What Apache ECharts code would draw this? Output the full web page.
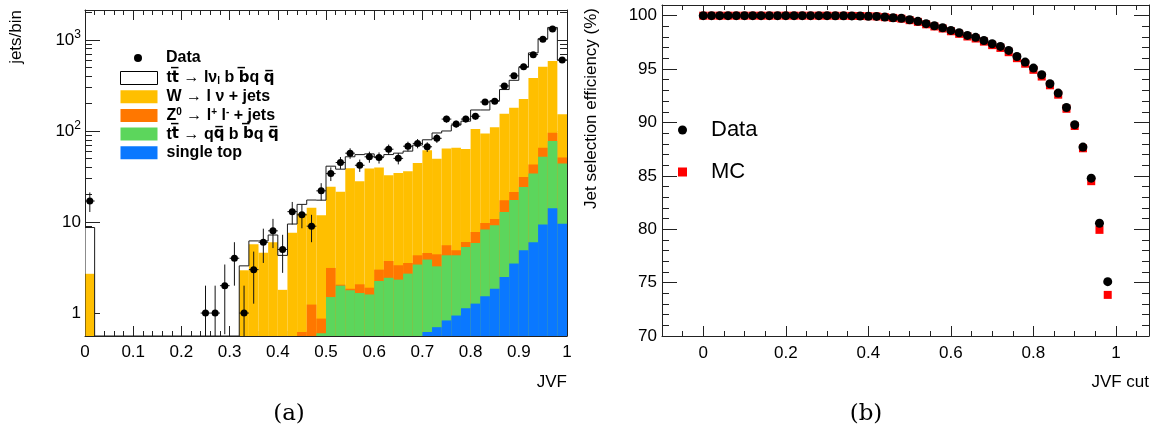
<!DOCTYPE html>
<html><head><meta charset="utf-8">
<script src="https://cdn.jsdelivr.net/npm/echarts@6/dist/echarts.min.js"></script>
<style>html,body{margin:0;padding:0;background:#fff;}#c{width:1160px;height:436px;}</style>
</head><body><div id="c"></div>
<script>
// ---------------- Panel (a): JVF distribution, 50 bins on [0,1] ----------------
const binLo = Array.from({length: 50}, (_, i) => +(i * 0.02).toFixed(2));
const binHi = binLo.map(v => +(v + 0.02).toFixed(2));

const dataCounts = [17, 0,0,0,0,0,0,0,0,0,0,0, 1,1,2,4,1,3,6,8,5,13,
  12,9,22,34,45,57,42,52,51,63, 50,68,73,67,83,135,119,135,145,208,
  212,312,403,508,689,1018,1321,600];

const singleTop = [0,0,0,0,0,0,0,0,0,0, 0,0,0,0,0,0,0,0,0,0, 0,0,0,0,0,0,0,0,0,0, 0,0,0,0,0,
  0.62,0.70,0.83,0.94,1.13,1.27,1.53,1.85,2.49,3.5,4.9,6.0,9.4,14.2,9.6];

const ttHad = [0,0,0,0,0,0,0,0,0,0, 0,0,0,0,0,0,0,0,0,0, 0,0,0,0,
  0.6,1.5,2.0,1.78,1.66,1.6,2.25,2.44,2.33,2.71,3.41,3.25,2.56,3.48,3.37,4.19,
  4.62,6.73,7.35,10.4,13.9,19.4,28.2,42.6,63.2,34.4];

const zJets = [0,0,0,0,0,0,0,0,0,0, 0,0,0,0,0,0,0,0,0,0, 0,0,
  0.62,1.24,0.27,1.63,0.05,0.07,0.41,0.3,0.75,1.29,1.02,0.84,0.9,0.7,1.16,1.25,0.59,0.72,
  1.89,1.52,1.6,4.5,3.9,7.0,8.7,13.4,18.1,7.2];

const wJets = [2.7, 0,0,0,0,0,0,0,0,0,0,0,0,0,0,0,
  2.95,5.7,4.6,6.0,1.8,7.6,11.8,13.1,11.0,21.2,19.5,37.0,25.9,36.9,36.8,29.0,31.2,32.5,40.2,
  57.0,45.1,58.8,60.5,57.2,97.2,84.2,99.2,137.6,158.7,192.7,339.1,442.6,492.5,101.8];

const ttLep = [6.0, 0,0,0,0,0,0,0,0,0,0,0,0,0,0,0,
  0.35,0.5,1.6,1.2,2.5,1.9,3.2,3.1,5.5,16.7,16.5,13.2,27,17.2,12.2,22.3,22.5,24,25.5,
  18.4,45.5,35.6,50.6,64.8,65,76,105,130,180,276,338,522,782,447];

const yMajorA = [1, 10, 100, 1000];
const yMinorA = [0.6,0.7,0.8,0.9, 2,3,4,5,6,7,8,9, 20,30,40,50,60,70,80,90,
  200,300,400,500,600,700,800,900, 2000];

// ---------------- Panel (b): efficiency vs JVF cut ----------------
const jvfCuts = Array.from({length: 50}, (_, i) => +(i * 0.02).toFixed(2));
const effData = [100,100,100,100,100,100,100,100,100,100, 100,100,100,100,100,100,
  99.99,99.99,99.98,99.97,99.95,99.93,99.87,99.81,99.75,99.62,99.47,99.25,99.06,98.87,
  98.62,98.40,98.15,97.97,97.68,97.37,97.12,96.75,96.18,95.65,95.09,94.47,93.62,92.75,
  91.40,89.78,87.69,84.78,80.56,75.09];
const effMC = [100,100,100,100,100,100,100,100,100,100, 100,100,100,100,100,100,
  99.99,99.99,99.98,99.97,99.95,99.93,99.86,99.79,99.72,99.58,99.42,99.19,98.99,98.80,
  98.54,98.30,98.05,97.86,97.57,97.24,96.98,96.58,96.02,95.50,94.93,94.30,93.48,92.60,
  91.28,89.67,87.58,84.50,79.94,73.85];

const xMajorB = [0, 0.2, 0.4, 0.6, 0.8, 1];
const xMinorB = [-0.05,0.05,0.1,0.15,0.25,0.3,0.35,0.45,0.5,0.55,0.65,0.7,0.75,0.85,0.9,0.95,1.05];
const yMajorB = [70, 75, 80, 85, 90, 95, 100];
const yMinorB = [71,72,73,74,76,77,78,79,81,82,83,84,86,87,88,89,91,92,93,94,96,97,98,99];

// ---------------- helpers ----------------
const YMIN = 0.56, YMAX = 2130;
const FONT = 'Liberation Sans';
const COL = {ttLep: '#ffffff', w: '#ffbf00', z: '#ff7700', had: '#5cd65c', top: '#0a78ff'};

// cumulative stacks (bottom -> top): single top, tt had, Z, W, tt lep
const cum = [];
let run = new Array(50).fill(0);
[singleTop, ttHad, zJets, wJets, ttLep].forEach(arr => {
  run = run.map((v, i) => v + arr[i]);
  cum.push(run.slice());
});
const [cumTop, cumHad, cumZ, cumW, cumTot] = cum;

function fillSeries(name, cumArr, color, extraStyle) {
  return {
    name, type: 'custom', xAxisIndex: 0, yAxisIndex: 0, clip: true,
    itemStyle: Object.assign({color}, extraStyle || {}),
    encode: {x: [0, 1], y: 2},
    data: cumArr.map((v, i) => [binLo[i], binHi[i], v]),
    renderItem(params, api) {
      const v = Math.max(api.value(2), YMIN);
      const p0 = api.coord([api.value(0), YMIN]);
      const p1 = api.coord([api.value(1), v]);
      return {type: 'rect', shape: {x: p0[0], y: p1[1], width: p1[0] - p0[0], height: p0[1] - p1[1]},
        style: {fill: color}};
    }
  };
}

const series = [
  fillSeries('ttlep', cumTot, COL.ttLep, {borderColor: '#000', borderWidth: 1}),
  fillSeries('wjets', cumW, COL.w),
  fillSeries('zjets', cumZ, COL.z),
  fillSeries('tthad', cumHad, COL.had),
  fillSeries('stop', cumTop, COL.top),
  { // outline of the total MC stack
    type: 'custom', xAxisIndex: 0, yAxisIndex: 0, clip: true, silent: true,
    encode: {x: [0, 1], y: 2},
    data: cumTot.map((v, i) => [binLo[i], binHi[i], v, i > 0 ? cumTot[i - 1] : 0]),
    renderItem(params, api) {
      const cur = Math.max(api.value(2), YMIN), prev = Math.max(api.value(3), YMIN);
      const a = api.coord([api.value(0), prev]);
      const b = api.coord([api.value(0), cur]);
      const c = api.coord([api.value(1), cur]);
      return {type: 'polyline', shape: {points: [a, b, c]}, style: {stroke: '#1a1a1a', lineWidth: 1, fill: null}};
    }
  },
  { // data error bars
    type: 'custom', xAxisIndex: 0, yAxisIndex: 0, clip: true, silent: true,
    encode: {x: 0, y: 1},
    data: dataCounts.map((n, i) => [(binLo[i] + binHi[i]) / 2, n, binLo[i], binHi[i]]).filter(d => d[1] > 0),
    renderItem(params, api) {
      const x = api.value(0), n = api.value(1), e = Math.sqrt(n);
      const lo = api.coord([x, Math.max(n - e, YMIN)]);
      const hi = api.coord([x, n + e]);
      const l = api.coord([api.value(2), n]);
      const r = api.coord([api.value(3), n]);
      return {type: 'group', children: [
        {type: 'line', shape: {x1: lo[0], y1: lo[1], x2: hi[0], y2: hi[1]}, style: {stroke: '#111', lineWidth: 1}},
        {type: 'line', shape: {x1: l[0], y1: l[1], x2: r[0], y2: r[1]}, style: {stroke: '#111', lineWidth: 1}}
      ]};
    }
  },
  {
    name: 'Data', type: 'scatter', xAxisIndex: 0, yAxisIndex: 0, symbol: 'circle', symbolSize: 7,
    itemStyle: {color: '#000', opacity: 1}, z: 5,
    data: dataCounts.map((n, i) => [(binLo[i] + binHi[i]) / 2, n]).filter(d => d[1] > 0)
  },
  // panel (b)
  {
    name: 'MC', type: 'scatter', xAxisIndex: 2, yAxisIndex: 4, symbol: 'rect', symbolSize: 8,
    itemStyle: {color: '#ff0000', opacity: 1},
    data: jvfCuts.map((x, i) => [x, effMC[i]])
  },
  {
    name: 'DataB', type: 'scatter', xAxisIndex: 2, yAxisIndex: 4, symbol: 'circle', symbolSize: 9,
    itemStyle: {color: '#000', opacity: 1},
    data: jvfCuts.map((x, i) => [x, effData[i]])
  }
];

const axisLine = {show: true, onZero: false, lineStyle: {color: '#222', width: 1}};
const noLine = {show: false, onZero: false};
const tickStyle = {color: '#222', width: 1};
const lbl = {fontFamily: FONT, fontSize: 17, color: '#000'};

const xAxes = [
  // panel a
  {gridIndex: 0, type: 'value', position: 'bottom', min: 0, max: 1, interval: 0.1,
    axisLine, splitLine: {show: false},
    axisTick: {inside: true, length: 10, lineStyle: tickStyle},
    minorTick: {show: true, splitNumber: 5, length: 5, lineStyle: tickStyle},
    axisLabel: Object.assign({margin: 8}, lbl)},
  {gridIndex: 0, type: 'value', position: 'top', min: 0, max: 1, interval: 0.1,
    axisLine, splitLine: {show: false},
    axisTick: {inside: true, length: 10, lineStyle: tickStyle},
    minorTick: {show: true, splitNumber: 5, length: 5, lineStyle: tickStyle},
    axisLabel: {show: false}},
  // panel b
  {gridIndex: 1, type: 'value', position: 'bottom', min: -0.1, max: 1.08, interval: 0.05,
    axisLine, splitLine: {show: false},
    axisTick: {inside: true, length: 5, lineStyle: tickStyle, customValues: xMinorB},
    axisLabel: Object.assign({margin: 9, customValues: xMajorB}, lbl)},
  {gridIndex: 1, type: 'value', position: 'bottom', min: -0.1, max: 1.08, interval: 0.05,
    axisLine: noLine, splitLine: {show: false},
    axisTick: {inside: true, length: 10, lineStyle: tickStyle, customValues: xMajorB},
    axisLabel: {show: false}},
  {gridIndex: 1, type: 'value', position: 'top', min: -0.1, max: 1.08, interval: 0.05,
    axisLine, splitLine: {show: false},
    axisTick: {inside: true, length: 5, lineStyle: tickStyle, customValues: xMinorB},
    axisLabel: {show: false}},
  {gridIndex: 1, type: 'value', position: 'top', min: -0.1, max: 1.08, interval: 0.05,
    axisLine: noLine, splitLine: {show: false},
    axisTick: {inside: true, length: 10, lineStyle: tickStyle, customValues: xMajorB},
    axisLabel: {show: false}}
];

const logFmt = v => {
  const k = Math.round(Math.log10(v));
  if (k === 0) return '{b|1}';
  if (k === 1) return '{b|10}';
  return '{b|10}{s|' + k + '}';
};

const yAxes = [
  // panel a (log)
  {gridIndex: 0, type: 'log', logBase: 10, position: 'left', min: YMIN, max: YMAX,
    axisLine, splitLine: {show: false}, minorTick: {show: false},
    axisTick: {inside: true, length: 15, lineStyle: tickStyle, customValues: yMajorA},
    axisLabel: {customValues: yMajorA, margin: 4, formatter: logFmt,
      rich: {b: {fontFamily: FONT, fontSize: 17, color: '#000', lineHeight: 22},
             s: {fontFamily: FONT, fontSize: 12, color: '#000', lineHeight: 12, verticalAlign: 'top'}}}},
  {gridIndex: 0, type: 'log', logBase: 10, position: 'left', min: YMIN, max: YMAX,
    axisLine: noLine, splitLine: {show: false},
    axisTick: {inside: true, length: 7, lineStyle: tickStyle, customValues: yMinorA},
    axisLabel: {show: false}},
  {gridIndex: 0, type: 'log', logBase: 10, position: 'right', min: YMIN, max: YMAX,
    axisLine, splitLine: {show: false},
    axisTick: {inside: true, length: 15, lineStyle: tickStyle, customValues: yMajorA},
    axisLabel: {show: false}},
  {gridIndex: 0, type: 'log', logBase: 10, position: 'right', min: YMIN, max: YMAX,
    axisLine: noLine, splitLine: {show: false},
    axisTick: {inside: true, length: 7, lineStyle: tickStyle, customValues: yMinorA},
    axisLabel: {show: false}},
  // panel b
  {gridIndex: 1, type: 'value', position: 'left', min: 70, max: 101, interval: 5,
    axisLine, splitLine: {show: false},
    axisTick: {inside: true, length: 15, lineStyle: tickStyle, customValues: yMajorB},
    axisLabel: Object.assign({margin: 5, customValues: yMajorB}, lbl)},
  {gridIndex: 1, type: 'value', position: 'left', min: 70, max: 101, interval: 5,
    axisLine: noLine, splitLine: {show: false},
    axisTick: {inside: true, length: 7, lineStyle: tickStyle, customValues: yMinorB},
    axisLabel: {show: false}},
  {gridIndex: 1, type: 'value', position: 'right', min: 70, max: 101, interval: 5,
    axisLine, splitLine: {show: false},
    axisTick: {inside: true, length: 15, lineStyle: tickStyle, customValues: yMajorB},
    axisLabel: {show: false}},
  {gridIndex: 1, type: 'value', position: 'right', min: 70, max: 101, interval: 5,
    axisLine: noLine, splitLine: {show: false},
    axisTick: {inside: true, length: 7, lineStyle: tickStyle, customValues: yMinorB},
    axisLabel: {show: false}}
];

const legRich = {
  n: {fontFamily: FONT, fontSize: 16, fontWeight: 'bold', color: '#000', lineHeight: 16},
  o: {fontFamily: 'DejaVu Sans', fontSize: 15, fontWeight: 'bold', color: '#000', lineHeight: 16},
  p: {fontFamily: FONT, fontSize: 10, fontWeight: 'bold', color: '#000', lineHeight: 9, verticalAlign: 'top'},
  d: {fontFamily: FONT, fontSize: 10, fontWeight: 'bold', color: '#000', lineHeight: 9, verticalAlign: 'bottom'}
};
const legLabel = {
  ttlep: '{n|t}{o|t\u0305}{n| \u2192 l\u03bd}{d|l}{n| b }{o|b\u0305}{n|q }{o|q\u0305}',
  wjets: '{n|W \u2192 l \u03bd + jets}',
  zjets: '{n|Z}{p|0}{n| \u2192 l}{p|+}{n| l}{p|-}{n| + jets}',
  tthad: '{n|t}{o|t\u0305}{n| \u2192 q}{o|q\u0305}{n| b }{o|b\u0305}{n|q }{o|q\u0305}',
  stop: '{n|single top}'
};

const option = {
  animation: false,
  backgroundColor: '#fff',
  grid: [
    {left: 85, top: 10, width: 482, height: 326},
    {left: 662, top: 5, width: 487, height: 331}
  ],
  xAxis: xAxes,
  yAxis: yAxes,
  legend: [
    {left: 134, top: 50, padding: 0, orient: 'vertical', itemWidth: 8, itemHeight: 8,
      data: [{name: 'Data', icon: 'circle'}],
      formatter: () => 'Data',
      textStyle: {fontFamily: FONT, fontSize: 16, fontWeight: 'bold', color: '#000', padding: [0, 0, 0, 19]}},
    {left: 120, top: 70, padding: 0, orient: 'vertical', itemWidth: 37, itemHeight: 13, itemGap: 2.7,
      data: [
        {name: 'ttlep', icon: 'rect', itemStyle: {color: '#fff', borderColor: '#000', borderWidth: 1}},
        {name: 'wjets', icon: 'rect'},
        {name: 'zjets', icon: 'rect'},
        {name: 'tthad', icon: 'rect'},
        {name: 'stop', icon: 'rect'}
      ],
      formatter: name => legLabel[name],
      textStyle: {padding: [0, 0, 0, 4], lineHeight: 13, rich: legRich}},
    {left: 678, top: 119, padding: 0, orient: 'vertical', itemWidth: 9, itemHeight: 9, itemGap: 20,
      data: [{name: 'DataB', icon: 'circle'}, {name: 'MC', icon: 'rect'}],
      formatter: name => (name === 'DataB' ? 'Data' : 'MC'),
      textStyle: {fontFamily: FONT, fontSize: 22, color: '#000', padding: [0, 0, 0, 19], lineHeight: 22}}
  ],
  graphic: [
    {type: 'text', x: 8, y: 10, rotation: Math.PI / 2,
      style: {text: 'jets/bin', font: '17px "Liberation Sans"', fill: '#000', align: 'right', verticalAlign: 'top'}},
    {type: 'text', x: 567, y: 374,
      style: {text: 'JVF', font: '17px "Liberation Sans"', fill: '#000', align: 'right', verticalAlign: 'top'}},
    {type: 'text', x: 583, y: 8, rotation: Math.PI / 2,
      style: {text: 'Jet selection efficiency (%)', font: '17px "Liberation Sans"', fill: '#000', align: 'right', verticalAlign: 'top'}},
    {type: 'text', x: 1149, y: 374,
      style: {text: 'JVF cut', font: '17px "Liberation Sans"', fill: '#000', align: 'right', verticalAlign: 'top'}},
    {type: 'text', x: 289, y: 414,
      style: {text: '(a)', font: '23px "DejaVu Serif"', fill: '#000', align: 'center', verticalAlign: 'middle'}},
    {type: 'text', x: 866, y: 414,
      style: {text: '(b)', font: '23px "DejaVu Serif"', fill: '#000', align: 'center', verticalAlign: 'middle'}}
  ],
  series
};

const chart = echarts.init(document.getElementById('c'), null, {renderer: 'canvas'});
chart.setOption(option);
</script>
</body></html>
